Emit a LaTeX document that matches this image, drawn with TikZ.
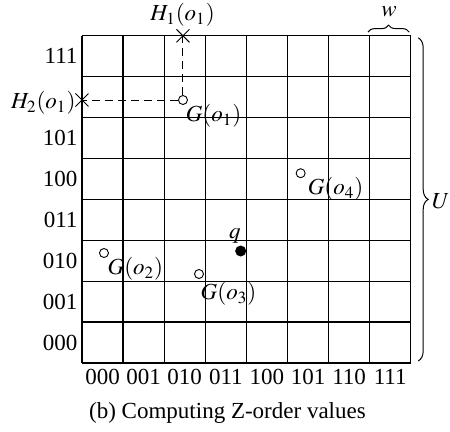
\documentclass[tikz,border=0pt]{standalone}
\usepackage{mathptmx}
\usepackage{fontspec}
\setmainfont{Liberation Serif}
\usetikzlibrary{decorations.pathreplacing,shapes.misc}
\tikzset{
  zo grid/.style={draw=black, line width=0.6pt},
  zo guide/.style={draw=black, line width=0.5pt, dash pattern=on 4pt off 2.5pt},
  zo obj/.style={circle, draw=black, line width=0.45pt, fill=white, minimum size=4.5pt, inner sep=0pt},
  zo query/.style={circle, fill=black, minimum size=5.5pt, inner sep=0pt},
  zo cross/.style={cross out, draw=black, line width=0.5pt, minimum size=6pt, inner sep=0pt},
  zo brace/.style={draw=black, line width=0.5pt, decorate, decoration={brace, amplitude=#1}},
  zo brace/.default=4pt,
  zo label/.style={inner sep=0pt, text=black},
}

\begin{document}
\begin{tikzpicture}[x=20.55pt, y=20.45pt, font=\fontsize{11.5}{14}\selectfont]
  \useasboundingbox (-1.995,-1.663) rectangle (8.954,8.875);

  % 8x8 cells
  \draw[zo grid, step=1] (0,0) grid (8,8);

  % Row and column codes
  \foreach \r/\b in {0/000,1/001,2/010,3/011,4/100,5/101,7/111} {
    \node[zo label, anchor=east] (row\r) at (-0.1,\r+0.5) {\b};
  }
  \foreach \c/\b in {0/000,1/001,2/010,3/011,4/100,5/101,6/110,7/111} {
    \node[zo label] (col\c) at (\c+0.5,-0.35) {\b};
  }

  % Objects and query
  \node[zo obj] (o1) at (2.457,6.43) {};
  \node[zo obj] (o2) at (0.535,2.689) {};
  \node[zo obj] (o3) at (2.847,2.176) {};
  \node[zo obj] (o4) at (5.32,4.64) {};
  \node[zo query] (q) at (3.861,2.738) {};

  \node[zo label] (lo1) at (3.2,6.04) {$G(o_1)$};
  \node[zo label] (lo2) at (1.30,2.30) {$G(o_2)$};
  \node[zo label] (lo3) at (3.564,1.687) {$G(o_3)$};
  \node[zo label] (lo4) at (6.168,4.254) {$G(o_4)$};
  \node[zo label] (lq) at (3.72,3.105) {$q$};

  % Projections of o1 onto the borders
  \node[zo cross] (h1) at (2.457,8) {};
  \node[zo cross] (h2) at (0,6.43) {};
  \draw[zo guide] (o1) -- (h1.center);
  \draw[zo guide] (o1) -- (h2.center);
  \node[zo label] (lh1) at (2.445,8.51) {$H_1(o_1)$};
  \node[zo label, anchor=east] (lh2) at (-0.15,6.36) {$H_2(o_1)$};

  % Cell width and universe
  \coordinate (wa) at (6.96,8.09);
  \coordinate (wb) at (7.96,8.09);
  \draw[zo brace=3.5pt] (wa) -- (wb);
  \node[zo label] (lw) at (7.47,8.58) {$w$};
  \coordinate (ua) at (8.18,7.95);
  \coordinate (ub) at (8.18,0.05);
  \draw[zo brace=5pt] (ua) -- (ub);
  \node[zo label] (lu) at (8.73,3.95) {$U$};

  \node[zo label] (caption) at (3.54,-1.22) {(b) Computing Z-order values};
\end{tikzpicture}
\end{document}
